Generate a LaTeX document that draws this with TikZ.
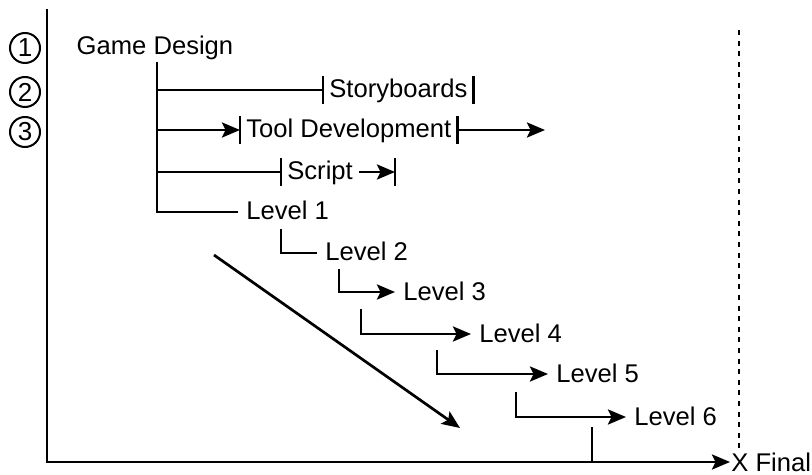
\documentclass[tikz,border=0pt]{standalone}
\usepackage{fontspec}
\setmainfont{Liberation Sans}
\usetikzlibrary{arrows.meta,calc}

\begin{document}
\begin{tikzpicture}[x=0.5pt, y=-0.5pt,
    every node/.style={font=\fontsize{12.8}{15}\selectfont},
    every path/.style={line width=1.35pt},
    >={Stealth[length=9pt,width=7.5pt,inset=1.8pt]},
    barbox/.style={anchor=west, inner xsep=2.5pt, inner ysep=0.5pt, text height=9.75pt, text depth=1.75pt},
    levelbox/.style={anchor=west, inner xsep=3.5pt, inner ysep=0.5pt, text height=9.75pt, text depth=1.75pt},
    numcirc/.style={draw, circle, line width=1pt, minimum size=15pt, inner sep=0pt, font=\fontsize{13}{13}\selectfont},
    dots/.style={line width=1.4pt, dash pattern=on 2.5pt off 2.8pt}]

    \useasboundingbox (0,0) rectangle (812,475);

    \coordinate (yTop) at (47,9);
    \coordinate (trunkTop) at (157,62);
    \coordinate (toolEnd) at (545,130);
    \coordinate (scEnd) at (395,172);
    \coordinate (diagA) at (214,255);
    \coordinate (diagB) at (460,428);
    \coordinate (tickTop) at (592,427);
    \coordinate (dotTop) at (739,30);
    \coordinate (dotBot) at (739,450);

    \node[numcirc] (n1) at (25,48) {1};
    \node[numcirc] (n2) at (25,92) {2};
    \node[numcirc] (n3) at (25,132) {3};

    \node (game) at (155,48) {Game Design};
    \node[barbox] (sb) at (323,90) {Storyboards};
    \node[barbox] (tool) at (240,130) {Tool Development};
    \node[barbox] (script) at (281,172) {Script};

    \node[levelbox] (L1) at (238,212) {Level 1};
    \node[levelbox] (L2) at (317,253) {Level 2};
    \node[levelbox] (L3) at (395,292) {Level 3};
    \node[levelbox] (L4) at (471,334) {Level 4};
    \node[levelbox] (L5) at (548,374) {Level 5};
    \node[levelbox] (L6) at (626,417) {Level 6};

    \node[anchor=west, inner sep=0pt, text height=9.75pt, text depth=0pt] (final) at (730,462) {X Final};

    % axes
    \draw[->] (yTop) |- (final.west);
    \draw[dots] (dotTop) -- (dotBot);
    \draw (tickTop) -- (tickTop |- final.west);

    % branches off the trunk
    \draw (trunkTop) |- (L1.west);
    \draw (trunkTop |- sb.west) -- (sb.west);
    \draw[->] (trunkTop |- tool.west) -- (tool.west);
    \draw (trunkTop |- script.west) -- (script.west);
    \draw[->] (tool.east) -- (toolEnd);
    \draw[->] (script.east) -- (scEnd);

    % bars
    \draw (sb.north west) -- (sb.south west) (sb.north east) -- (sb.south east);
    \draw (tool.north west) -- (tool.south west) (tool.north east) -- (tool.south east);
    \draw (script.north west) -- (script.south west);
    \draw (scEnd |- script.north) -- (scEnd |- script.south);

    % level steps
    \draw ($(L1.south west)+(43,3.5)$) |- (L2.west);
    \draw[->] ($(L2.south west)+(22,2.5)$) |- (L3.west);
    \draw[->] ($(L3.south west)+(-34,3.5)$) |- (L4.west);
    \draw[->] ($(L4.south west)+(-34,2.5)$) |- (L5.west);
    \draw[->] ($(L5.south west)+(-32,4.5)$) |- (L6.west);

    \draw[->] (diagA) -- (diagB);

\end{tikzpicture}
\end{document}
